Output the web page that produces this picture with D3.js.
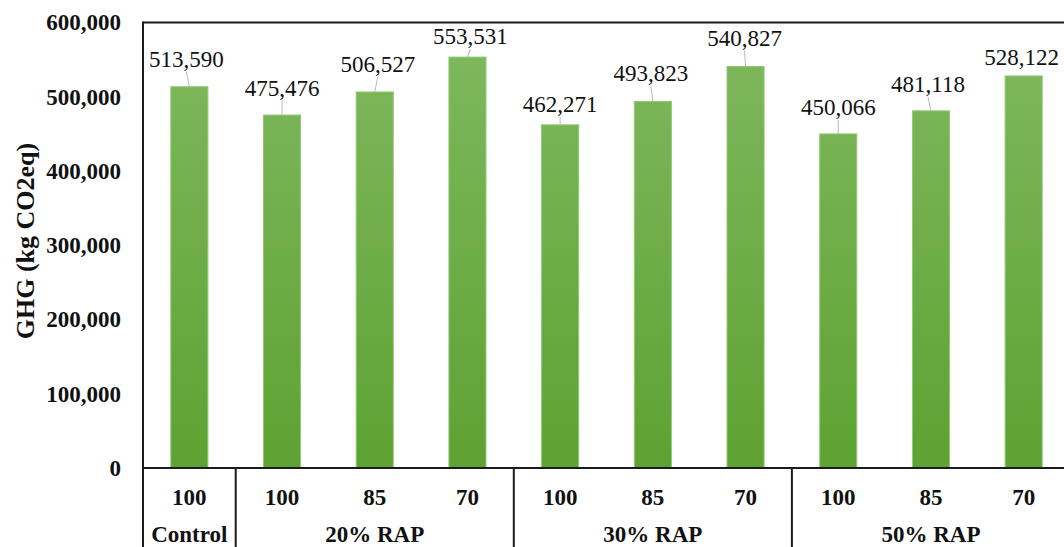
<!DOCTYPE html>
<html>
<head>
<meta charset="utf-8">
<script src="https://cdn.jsdelivr.net/npm/d3@7"></script>
<style>
  html, body { margin: 0; padding: 0; background: #fff; }
  svg { display: block; }
  text { font-family: "Liberation Serif", "Times New Roman", serif; fill: #111; }
</style>
</head>
<body>
<svg id="chart" width="1064" height="547"></svg>
<script>
// Mix ratio for each bar, and the group each set of bars belongs to
const categories = ["100", "100", "85", "70", "100", "85", "70", "100", "85", "70"];
const groupNames = ["Control", "20% RAP", "30% RAP", "50% RAP"];
const groupSizes = [1, 3, 3, 3];

// Greenhouse gas emissions, kg CO2eq
const ghg = [513590, 475476, 506527, 553531, 462271, 493823, 540827, 450066, 481118, 528122];

// Value axis ticks
const yTicks = [0, 100000, 200000, 300000, 400000, 500000, 600000];

// Hand-placed value labels: pixels above the bar top, and sideways nudge
const labelLift = [20, 19, 20, 13, 13, 20, 21, 19, 19, 11];
const labelNudge = [-3, 0, 3, 3, 0, -2, -1, 0, -3, -2];

const serif = "'Liberation Serif', 'Times New Roman', serif";
const svg = d3.select("#chart");
const plotLeft = 143, plotRight = 1070, plotTop = 22.6, plotBase = 468, tableBottom = 547;

const x = d3.scaleBand()
  .domain(d3.range(categories.length))
  .range([plotLeft, plotRight])
  .paddingInner(0.6)
  .paddingOuter(0.3);

const y = d3.scaleLinear().domain([0, 600000]).range([plotBase, plotTop]);

// Bar fill: lighter green at the top fading to deeper green at the base
const defs = svg.append("defs");
const grad = defs.append("linearGradient")
  .attr("id", "barFill")
  .attr("gradientUnits", "userSpaceOnUse")
  .attr("x1", 0).attr("y1", plotTop).attr("x2", 0).attr("y2", plotBase);
grad.append("stop").attr("offset", "0%").attr("stop-color", "#80b95f");
grad.append("stop").attr("offset", "100%").attr("stop-color", "#5da232");

// Bars
svg.append("g").selectAll("rect")
  .data(ghg)
  .join("rect")
  .attr("x", (d, i) => x(i))
  .attr("y", d => y(d))
  .attr("width", x.bandwidth())
  .attr("height", d => plotBase - y(d))
  .attr("fill", "url(#barFill)")
  .attr("stroke", "#93c874")
  .attr("stroke-width", 1);

// Leader lines from labels to bar tops
const fmt = d3.format(",");
svg.append("g").selectAll("line")
  .data(ghg.map((v, i) => ({ v, i })).filter(d => labelLift[d.i] > 12))
  .join("line")
  .attr("x1", d => x(d.i) + x.bandwidth() / 2 + labelNudge[d.i])
  .attr("y1", d => y(d.v) - labelLift[d.i] + 5)
  .attr("x2", d => x(d.i) + x.bandwidth() / 2)
  .attr("y2", d => y(d.v))
  .attr("stroke", "#aebbd2")
  .attr("stroke-width", 1);

// Value labels
svg.append("g").selectAll("text")
  .data(ghg)
  .join("text")
  .attr("x", (d, i) => x(i) + x.bandwidth() / 2 + labelNudge[i])
  .attr("y", (d, i) => y(d) - labelLift[i])
  .attr("text-anchor", "middle")
  .style("font-family", serif)
  .style("font-size", "23px")
  .attr("fill", "#1a1a1a")
  .text(d => fmt(d));

// Value axis
const yAxis = svg.append("g")
  .attr("transform", `translate(${plotLeft},0)`)
  .call(d3.axisLeft(y).tickValues(yTicks).tickFormat(fmt).tickSize(0).tickPadding(22));
yAxis.select(".domain").remove();
yAxis.selectAll("text")
  .style("font-family", serif)
  .style("font-size", "23px")
  .style("font-weight", "bold")
  .attr("fill", "#111");

// Axis title
svg.append("text")
  .attr("transform", "translate(25,241) rotate(-90)")
  .attr("text-anchor", "middle")
  .attr("dominant-baseline", "central")
  .style("font-family", serif)
  .style("font-size", "26px")
  .style("font-weight", "bold")
  .text("GHG (kg CO2eq)");

// Frame: top border, left edge running down through the category table, and baseline
const frame = svg.append("g").attr("stroke", "#1b1b1b").attr("stroke-width", 2).attr("fill", "none");
frame.append("line").attr("x1", plotLeft).attr("x2", plotRight).attr("y1", plotTop).attr("y2", plotTop);
frame.append("line").attr("x1", plotLeft).attr("x2", plotLeft).attr("y1", plotTop - 1).attr("y2", tableBottom);
frame.append("line").attr("x1", plotLeft).attr("x2", plotRight).attr("y1", plotBase).attr("y2", plotBase);

// Group separators in the category table
const step = x.step();
let acc = 0;
const bounds = groupSizes.map(s => { const b = { start: acc, end: acc + s }; acc += s; return b; });
frame.selectAll("line.sep")
  .data(bounds.slice(1))
  .join("line")
  .attr("class", "sep")
  .attr("x1", d => plotLeft + d.start * step)
  .attr("x2", d => plotLeft + d.start * step)
  .attr("y1", plotBase)
  .attr("y2", tableBottom);

// Category labels (mix ratio)
svg.append("g").selectAll("text")
  .data(categories)
  .join("text")
  .attr("x", (d, i) => x(i) + x.bandwidth() / 2)
  .attr("y", 505)
  .attr("text-anchor", "middle")
  .style("font-family", serif)
  .style("font-size", "23px")
  .style("font-weight", "bold")
  .text(d => d);

// Group labels
svg.append("g").selectAll("text")
  .data(groupNames)
  .join("text")
  .attr("x", (d, i) => plotLeft + (bounds[i].start + bounds[i].end) / 2 * step)
  .attr("y", 542)
  .attr("text-anchor", "middle")
  .style("font-family", serif)
  .style("font-size", "23px")
  .style("font-weight", "bold")
  .text(d => d);
</script>
</body>
</html>
